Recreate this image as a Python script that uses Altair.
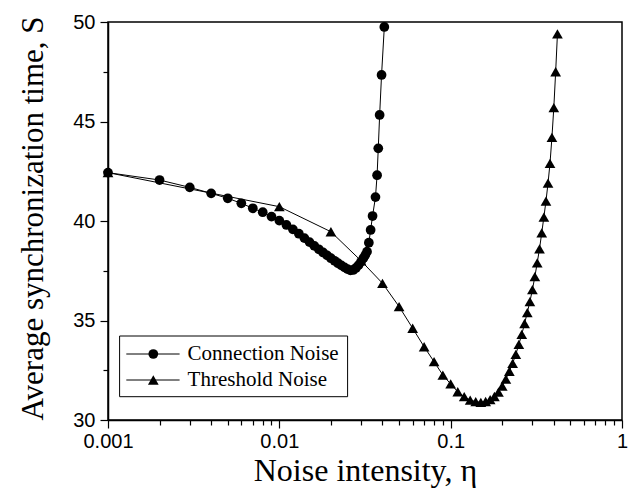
import altair as alt
import pandas as pd

# Connection noise: average synchronization time vs noise intensity
conn_x = [0.001, 0.002, 0.003, 0.004, 0.005, 0.006, 0.007, 0.008, 0.009, 0.010,
          0.011, 0.012, 0.013, 0.014, 0.015, 0.016, 0.017, 0.018, 0.019, 0.020,
          0.021, 0.022, 0.023, 0.024, 0.025, 0.026, 0.027, 0.028, 0.029, 0.030,
          0.031, 0.0318, 0.0325, 0.0333, 0.0341, 0.0350, 0.0364, 0.0372, 0.0378,
          0.0385, 0.0395, 0.0410]
conn_y = [42.43, 42.06, 41.69, 41.39, 41.14, 40.89, 40.64, 40.44, 40.22, 40.02,
          39.80, 39.58, 39.36, 39.14, 38.94, 38.75, 38.58, 38.42, 38.27, 38.13,
          38.00, 37.88, 37.77, 37.67, 37.58, 37.52, 37.54, 37.64, 37.78, 37.96,
          38.14, 38.30, 38.46, 38.91, 39.55, 40.25, 41.20, 42.30, 43.65,
          45.33, 47.34, 49.75]

# Threshold noise
thr_x = [0.001, 0.01, 0.02, 0.03, 0.04, 0.05, 0.06, 0.07, 0.08, 0.09,
         0.10, 0.11, 0.12, 0.13, 0.14, 0.15, 0.16, 0.17, 0.18, 0.19,
         0.20, 0.21, 0.22, 0.23, 0.24, 0.25, 0.26, 0.27, 0.28, 0.29,
         0.30, 0.31, 0.32, 0.33, 0.34, 0.35, 0.36, 0.37, 0.38, 0.39,
         0.40, 0.41, 0.42]
thr_y = [42.43, 40.72, 39.46, 38.00, 36.87, 35.70, 34.61, 33.68, 32.93, 32.26,
         31.81, 31.42, 31.17, 31.00, 30.92, 30.89, 30.93, 31.02, 31.18, 31.40,
         31.70, 32.05, 32.45, 32.85, 33.30, 33.80, 34.30, 34.85, 35.40, 35.95,
         36.55, 37.20, 37.90, 38.60, 39.40, 40.20, 41.00, 41.90, 42.90, 44.20,
         45.70, 47.50, 49.40]

series_names = ["Connection Noise", "Threshold Noise"]
series_shapes = ["circle", "triangle-up"]
series_sizes = [95, 115]

x_major = [0.001, 0.01, 0.1, 1]
x_minor = [m * d for d in (0.001, 0.01, 0.1) for m in range(2, 10)]
y_major = [30, 35, 40, 45, 50]
y_minor = [32.5, 37.5, 42.5, 47.5]

conn = pd.DataFrame({"eta": conn_x, "S": conn_y, "series": series_names[0]})
thr = pd.DataFrame({"eta": thr_x, "S": thr_y, "series": series_names[1]})

W, H = 514, 398
SERIF = "Liberation Serif"
SANS = "Liberation Sans"

x_scale = alt.Scale(type="log", domain=[0.001, 1], nice=False)
y_scale = alt.Scale(domain=[30, 50], nice=False, zero=False)

x_axis = alt.Axis(
    values=sorted(x_major + x_minor),
    labelExpr="indexof([0.001, 0.01, 0.1, 1], datum.value) >= 0 ? '' + datum.value : ''",
    tickSize={"condition": {"test": "indexof([0.001, 0.01, 0.1, 1], datum.value) >= 0", "value": 8}, "value": 5},
    grid=False, domainColor="black", domainWidth=1.5, tickColor="black", tickWidth=1.2,
    labelFont=SANS, labelFontSize=20, labelColor="black", labelPadding=3, labelFlush=False,
    labelOverlap=False,
    title="Noise intensity, η", titleFont=SERIF, titleFontSize=32, titleFontWeight="normal",
    titleColor="black", titleX=W / 2, titleY=60, titleBaseline="alphabetic",
)
y_axis = alt.Axis(
    values=y_major + y_minor,
    labelExpr="datum.value % 5 == 0 ? datum.label : ''",
    tickSize={"condition": {"test": "datum.value % 5 == 0", "value": 8}, "value": 5},
    grid=False, domainColor="black", domainWidth=1.5, tickColor="black", tickWidth=1.2,
    labelFont=SANS, labelFontSize=20, labelColor="black", labelPadding=5, labelFlush=False,
    labelOverlap=False,
    title="Average synchronization time, S", titleFont=SERIF, titleFontSize=31,
    titleFontWeight="normal", titleColor="black", titleX=-66, titleY=196,
    titleBaseline="alphabetic", titleAngle=270,
)

X = alt.X("eta:Q", scale=x_scale, axis=x_axis)
Y = alt.Y("S:Q", scale=y_scale, axis=y_axis)

thr_line = alt.Chart(thr).mark_line(color="black", strokeWidth=1).encode(x=X, y=Y)
thr_pts = alt.Chart(thr).mark_point(
    shape=series_shapes[1], filled=True, size=series_sizes[1], color="black", opacity=1
).encode(x=X, y=Y)
conn_line = alt.Chart(conn).mark_line(color="black", strokeWidth=1).encode(x=X, y=Y)
conn_pts = alt.Chart(conn).mark_point(
    shape=series_shapes[0], filled=True, size=series_sizes[0], color="black", opacity=1
).encode(x=X, y=Y)

# Legend box in the lower-left corner of the plot
legend_df = pd.DataFrame({"name": series_names})
box = alt.Chart(legend_df).transform_filter(
    alt.datum.name == series_names[0]
).mark_rect(fill="white", stroke="black", strokeWidth=1).encode(
    x=alt.value(11.6), x2=alt.value(239.6), y=alt.value(314), y2=alt.value(374.7)
)
legend_layers = [box]
row_y = [332, 358]
for i, name in enumerate(series_names):
    base = alt.Chart(legend_df).transform_filter(alt.datum.name == name)
    legend_layers.append(base.mark_rule(color="black", strokeWidth=1).encode(
        x=alt.value(18.3), x2=alt.value(71.6), y=alt.value(row_y[i])))
    legend_layers.append(base.mark_point(
        shape=series_shapes[i], filled=True, size=series_sizes[i], color="black", opacity=1
    ).encode(x=alt.value(45.3), y=alt.value(row_y[i])))
    legend_layers.append(base.mark_text(
        align="left", baseline="middle", font=SERIF, fontSize=21, color="black"
    ).encode(x=alt.value(79.6), y=alt.value(row_y[i]), text="name:N"))

chart = alt.layer(thr_line, thr_pts, conn_line, conn_pts, *legend_layers).properties(
    width=W, height=H,
    autosize=alt.AutoSizeParams(type="none"),
    padding={"left": 108, "top": 22, "right": 6, "bottom": 76},
    background="white",
).configure_view(stroke="black", strokeWidth=1.5)

chart.save("out.html", embed_options={"renderer": "svg", "actions": False})
